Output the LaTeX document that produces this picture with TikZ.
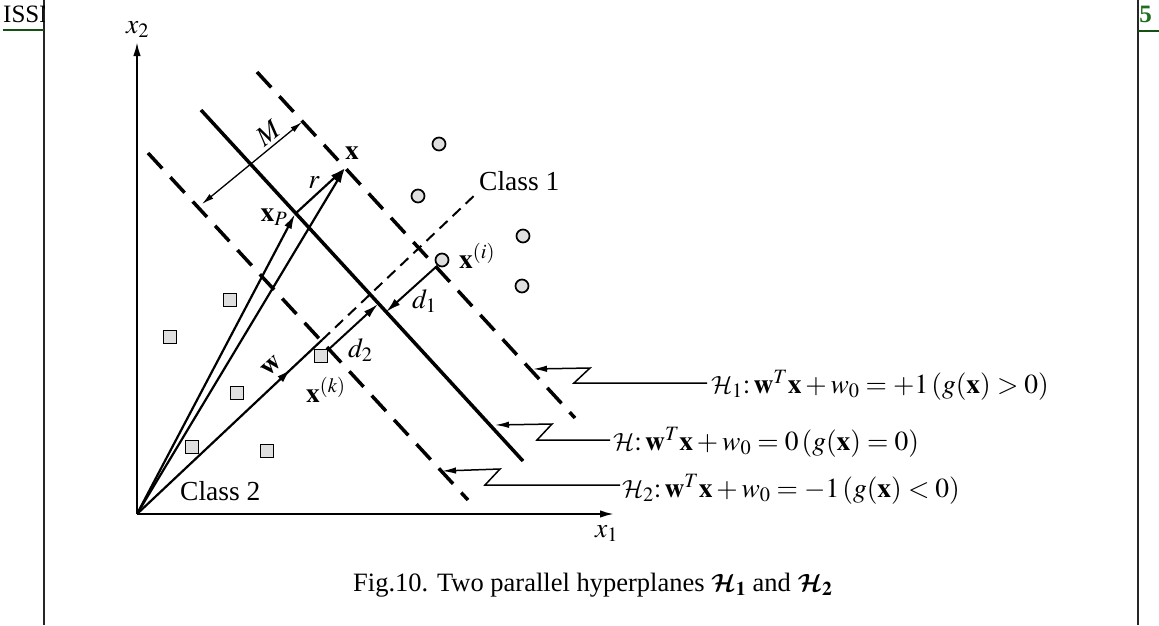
\documentclass[tikz,border=0pt]{standalone}
\usepackage{amsmath}
\usepackage{mathptmx}
\DeclareMathAlphabet{\mathcal}{OMS}{cmsy}{m}{n}
\SetMathAlphabet{\mathcal}{bold}{OMS}{cmsy}{b}{n}
\usepackage{fontspec}
\setmainfont{Liberation Serif}
\usetikzlibrary{arrows.meta,decorations.markings}
\definecolor{hdrgreen}{RGB}{20,80,20}
\definecolor{numgreen}{RGB}{30,110,30}
\begin{document}
\begin{tikzpicture}[x=1pt,y=-1pt,
  font=\fontsize{27.5}{30}\selectfont,
  hyp/.style={line width=3.5pt},
  margin/.style={line width=3.5pt, dash pattern=on 21pt off 12pt},
  thindash/.style={line width=2pt, dash pattern=on 11pt off 7pt},
  vec/.style={line width=2.2pt, -{Latex[length=15pt,width=8pt]}},
  axis/.style={line width=2pt, -{Latex[length=14pt,width=7.5pt]}},
  callout/.style={line width=1.5pt, -{Latex[length=14pt,width=6.5pt]}},
  marginarrow/.style={line width=1.3pt, {Latex[length=12pt,width=6pt]}-{Latex[length=12pt,width=6pt]}},
  cpt/.style={circle, draw, line width=1.7pt, fill=gray!25, minimum size=13pt, inner sep=0pt},
  spt/.style={rectangle, draw, line width=1.7pt, fill=gray!25, minimum size=13pt, inner sep=0pt},
  lbl/.style={inner sep=0pt},
  frame/.style={line width=2.2pt, black!85}]
\useasboundingbox (0,0) rectangle (1159,625);

% page frame and header fragments
\draw[frame] (44,0) -- (44,625);
\draw[frame] (1138,0) -- (1138,625);
\begin{scope}
  \clip (0,0) rectangle (44,40);
  \node[lbl, anchor=base west, font=\fontsize{25}{28}\selectfont] (issn) at (3,22) {ISSN};
\end{scope}
\draw[line width=2pt, hdrgreen] (3,30) -- (44,30);
\begin{scope}
  \clip (1138,0) rectangle (1159,40);
  \node[lbl, anchor=base east, numgreen, font=\fontsize{25}{28}\selectfont\bfseries] (year) at (1152,22) {2025};
\end{scope}
\draw[line width=2pt, hdrgreen] (1138,31) -- (1159,31);

% coordinates
\coordinate (O) at (137,514);
\coordinate (X2end) at (137,42);
\coordinate (X1end) at (614,514);
\coordinate (Ha) at (201,110);  \coordinate (Hb) at (523,461);
\coordinate (H1a) at (257,72);  \coordinate (H1b) at (575,418);
\coordinate (H2a) at (148,153); \coordinate (H2b) at (468,500);
\coordinate (W) at (322,340);   \coordinate (C1end) at (478,192);
\coordinate (X) at (345,168);   \coordinate (XP) at (295,214);
\coordinate (Ma) at (202,204);  \coordinate (Mb) at (302,122);
\coordinate (D1s) at (437,266); \coordinate (D1e) at (386,312);
\coordinate (D2s) at (328,350); \coordinate (D2e) at (378,304);

% axes
\draw[axis] (O) -- (X2end);
\draw[axis] (O) -- (X1end);
\node[lbl, anchor=base west] (lx2) at (126,33) {$x_2$};
\node[lbl, anchor=base west] (lx1) at (595,537) {$x_1$};

% hyperplanes
\draw[hyp] (Ha) -- (Hb);
\draw[margin] (H1a) -- (H1b);
\draw[margin] (H2a) -- (H2b);

% w vector and its dashed continuation
\draw[line width=2.2pt, postaction={decorate},
  decoration={markings, mark=at position 0.83 with {\arrow{Latex[length=14pt,width=8pt]}}}]
  (O) -- (W);
\draw[thindash] (W) -- (C1end);

% x, x_P, r vectors
\draw[vec] (O) -- (XP);
\draw[vec] (O) -- (X);
\draw[vec] (XP) -- (X);

% margin M
\draw[marginarrow] (Ma) -- (Mb);

% distances
\draw[vec, line width=2pt] (D1s) -- (D1e);
\draw[vec, line width=2pt] (D2s) -- (D2e);

% class 1 points
\node[cpt] (c1) at (439,144) {};
\node[cpt] (c2) at (418,196) {};
\node[cpt] (c3) at (523,236) {};
\node[cpt] (c4) at (522,286) {};
\node[cpt] (xi) at (442,260) {};
% class 2 points
\node[spt] (s1) at (230,300) {};
\node[spt] (s2) at (170,337) {};
\node[spt] (s3) at (237,393) {};
\node[spt] (s4) at (192,447) {};
\node[spt] (s5) at (267,451) {};
\node[spt] (xk) at (321,356) {};

% labels
\node[lbl, rotate=39] (lM) at (268,133) {$M$};
\node[lbl] (lX) at (352,153) {$\mathbf{x}$};
\node[lbl] (lr) at (314,183) {$r$};
\node[lbl] (lXP) at (274,217) {$\mathbf{x}_P$};
\node[lbl, anchor=base west] (lc1) at (479,190) {Class 1};
\node[lbl, anchor=base west] (lxi) at (459,268) {$\mathbf{x}^{(i)}$};
\node[lbl, anchor=base west] (ld1) at (412,308) {$d_1$};
\node[lbl, anchor=base west] (ld2) at (348,357) {$d_2$};
\node[lbl, anchor=base west] (lxk) at (306,402) {$\mathbf{x}^{(k)}$};
\node[lbl, rotate=42] (lw) at (272,366) {$\mathbf{w}$};
\node[lbl, anchor=base west] (lc2) at (180,500) {Class 2};

% equations with zig-zag leaders
\node[lbl, anchor=base west] (t1) at (711,393)
  {$\mathcal{H}_1{:}\,\mathbf{w}^{T}\mathbf{x}+w_0=+1\,(g(\mathbf{x})>0)$};
\node[lbl, anchor=base west] (t0) at (613,450)
  {$\mathcal{H}{:}\,\mathbf{w}^{T}\mathbf{x}+w_0=0\,(g(\mathbf{x})=0)$};
\node[lbl, anchor=base west] (t2) at (622,497)
  {$\mathcal{H}_2{:}\,\mathbf{w}^{T}\mathbf{x}+w_0=-1\,(g(\mathbf{x})<0)$};
\coordinate (t1s) at (707,383);
\coordinate (t0s) at (610,440);
\coordinate (t2s) at (620,485);
\draw[callout] (t1s) -- (574,383) -- (590,368) -- (533,369);
\draw[callout] (t0s) -- (537,440) -- (552,424) -- (495,425);
\draw[callout] (t2s) -- (485,485) -- (500,469) -- (442,471);

% caption
\node[lbl, anchor=base west] (cap) at (353,591)
  {\fontsize{26.5}{29}\selectfont Fig.10. Two parallel hyperplanes $\boldsymbol{\mathcal{H}}_{\mathbf{1}}$ and $\boldsymbol{\mathcal{H}}_{\mathbf{2}}$};
\end{tikzpicture}
\end{document}
